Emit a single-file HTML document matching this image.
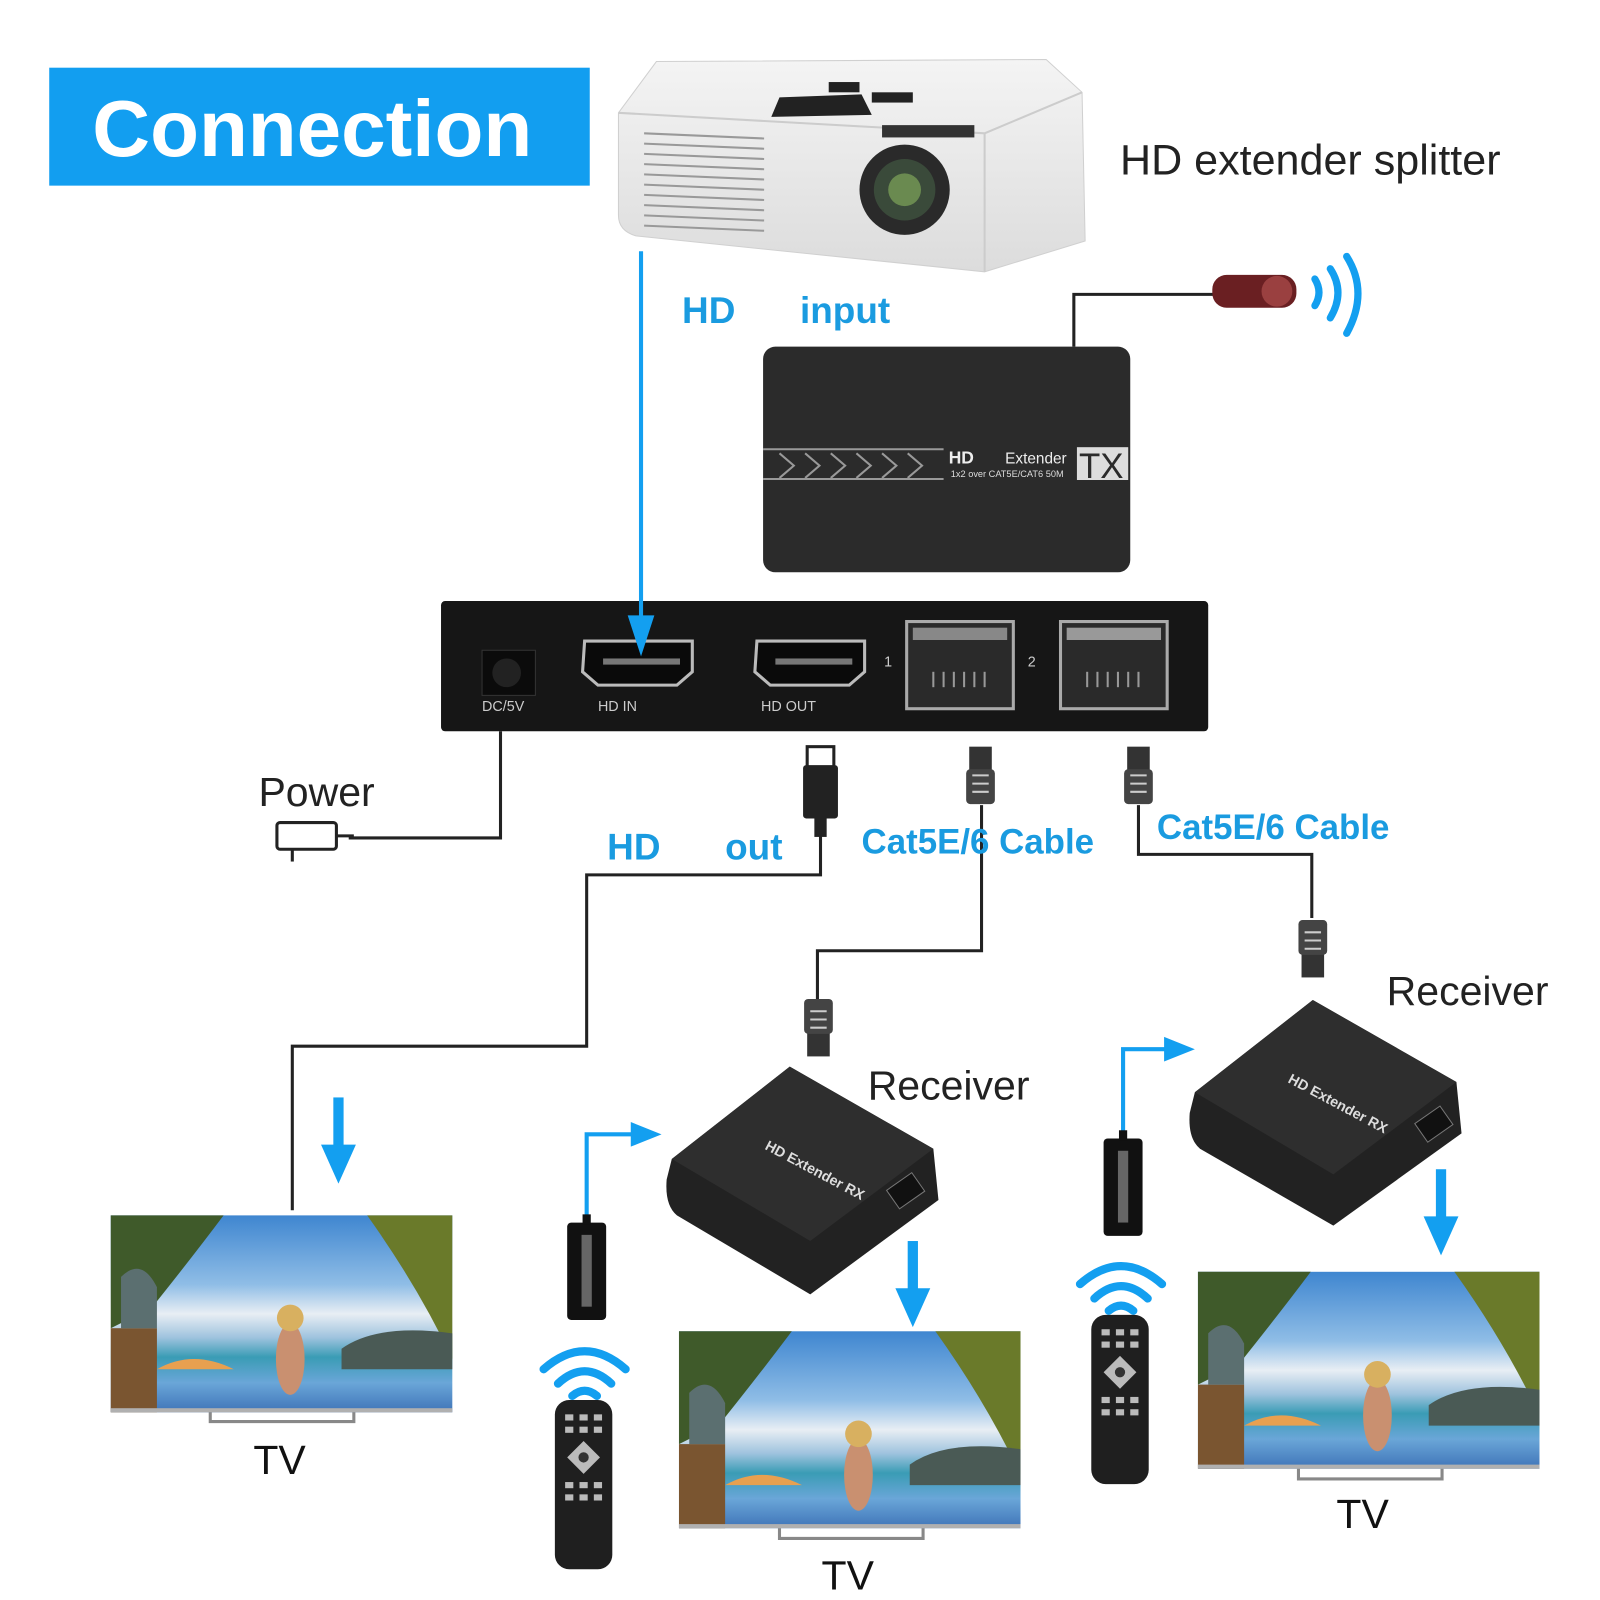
<!DOCTYPE html>
<html><head><meta charset="utf-8"><style>
html,body{margin:0;padding:0;background:#fff;width:1600px;height:1600px;overflow:hidden}
svg{display:block}
text{font-family:"Liberation Sans",sans-serif}
</style></head><body>
<svg width="1600" height="1600" viewBox="0 0 1560 1560" xmlns="http://www.w3.org/2000/svg">
<defs>
<linearGradient id="tv" x1="0" y1="0" x2="0" y2="1">
<stop offset="0" stop-color="#3f86d0"/><stop offset="0.35" stop-color="#8fbde6"/><stop offset="0.5" stop-color="#e8eef4"/><stop offset="0.62" stop-color="#9fc3de"/><stop offset="0.72" stop-color="#3a9cb5"/><stop offset="0.85" stop-color="#6aa6d8"/><stop offset="1" stop-color="#3f74b8"/>
</linearGradient>
<linearGradient id="proj" x1="0" y1="0" x2="0" y2="1"><stop offset="0" stop-color="#f4f4f4"/><stop offset="1" stop-color="#dcdcdc"/></linearGradient>
<g id="tvimg">
<rect x="0" y="0" width="333" height="192" fill="url(#tv)"/>
<path d="M0 0 L110 0 Q80 40 40 90 L0 110Z" fill="#3f5a2a"/>
<path d="M250 0 L333 0 L333 140 Q300 70 250 0Z" fill="#6a7a2a"/>
<rect x="0" y="110" width="45" height="82" fill="#7a5530"/>
<path d="M10 60 Q30 40 45 70 L45 110 L10 110Z" fill="#5b6f70"/>
<path d="M225 130 Q260 105 333 115 L333 150 L225 150Z" fill="#4a5a55"/>
<path d="M45 150 Q80 130 120 150Z" fill="#e8a050"/>
<ellipse cx="175" cy="140" rx="14" ry="35" fill="#c99070"/>
<circle cx="175" cy="100" r="13" fill="#d8b060"/>
<rect x="0" y="188" width="333" height="4" fill="#b0b0b0"/>
</g>
<g id="remote">
<rect x="0" y="0" width="56" height="165" rx="14" fill="#1f1f1f"/>
<g fill="#bbb">
<rect x="10" y="14" width="8" height="6"/><rect x="24" y="14" width="8" height="6"/><rect x="38" y="14" width="8" height="6"/>
<rect x="10" y="26" width="8" height="6"/><rect x="24" y="26" width="8" height="6"/><rect x="38" y="26" width="8" height="6"/>
<polygon points="28,40 44,56 28,72 12,56"/>
<rect x="10" y="80" width="8" height="6"/><rect x="24" y="80" width="8" height="6"/><rect x="38" y="80" width="8" height="6"/>
<rect x="10" y="92" width="8" height="6"/><rect x="24" y="92" width="8" height="6"/><rect x="38" y="92" width="8" height="6"/>
</g>
<circle cx="28" cy="56" r="5" fill="#333"/>
</g>
<g id="wifi" fill="none" stroke="#139ff0" stroke-width="8" stroke-linecap="round">
<path d="M-40 -10 Q0 -45 40 -10"/><path d="M-26 4 Q0 -20 26 4"/><path d="M-12 16 Q0 6 12 16"/>
</g>
<g id="rj">
<rect x="-11" y="0" width="22" height="24" fill="#333"/>
<rect x="-14" y="22" width="28" height="34" rx="4" fill="#444"/>
<g stroke="#ccc" stroke-width="2"><line x1="-8" y1="28" x2="8" y2="28"/><line x1="-8" y1="36" x2="8" y2="36"/><line x1="-8" y1="44" x2="8" y2="44"/></g>
</g>
<g id="arrowdn"><rect x="-5" y="0" width="10" height="50" fill="#139ff0"/><polygon points="-17,46 17,46 0,84" fill="#139ff0"/></g>
<g id="irrx"><rect x="0" y="0" width="38" height="95" rx="4" fill="#111"/><rect x="14" y="12" width="10" height="70" fill="#666"/><rect x="15" y="-8" width="8" height="10" fill="#111"/></g>
</defs>

<rect x="48" y="66" width="527" height="115" fill="#129ef0"/>
<text x="90" y="152" font-size="78" font-weight="bold" fill="#fff">Connection</text>

<path d="M603 110 L640 60 L1020 58 L1055 90 L1058 235 L960 265 L620 230 Q603 225 603 210Z" fill="url(#proj)" stroke="#d0d0d0"/>
<path d="M603 110 L960 130 L1055 90" fill="none" stroke="#ccc" stroke-width="2"/>
<path d="M960 130 L960 265" stroke="#ccc" stroke-width="2"/>
<g stroke="#999" stroke-width="2">
<line x1="628" y1="130" x2="745" y2="135"/><line x1="628" y1="140" x2="745" y2="145"/><line x1="628" y1="150" x2="745" y2="155"/><line x1="628" y1="160" x2="745" y2="165"/><line x1="628" y1="170" x2="745" y2="175"/><line x1="628" y1="180" x2="745" y2="185"/><line x1="628" y1="190" x2="745" y2="195"/><line x1="628" y1="200" x2="745" y2="205"/><line x1="628" y1="210" x2="745" y2="215"/><line x1="628" y1="220" x2="745" y2="225"/>
</g>
<path d="M760 95 L840 92 L850 112 L752 114Z" fill="#222"/>
<rect x="808" y="80" width="30" height="10" fill="#222"/><rect x="850" y="90" width="40" height="10" fill="#222"/>
<rect x="860" y="122" width="90" height="12" fill="#333"/>
<circle cx="882" cy="185" r="44" fill="#2a2a2a"/>
<circle cx="882" cy="185" r="30" fill="#3a4a3a"/>
<circle cx="882" cy="185" r="16" fill="#6a8a50"/>
<text x="1092" y="170" font-size="42" fill="#222">HD  extender splitter</text>

<text x="665" y="315" font-size="36" font-weight="bold" fill="#1a9be0">HD</text>
<text x="780" y="315" font-size="36" font-weight="bold" fill="#1a9be0">input</text>

<polyline points="1047,338 1047,287 1185,287" fill="none" stroke="#222" stroke-width="3"/>
<rect x="1182" y="268" width="82" height="32" rx="14" fill="#6a1f22"/>
<circle cx="1245" cy="284" r="15" fill="#9a4040"/>
<g fill="none" stroke="#139ff0" stroke-width="7" stroke-linecap="round">
<path d="M1282 272 Q1290 285 1282 298"/><path d="M1297 262 Q1312 285 1297 310"/><path d="M1313 250 Q1335 285 1313 325"/>
</g>

<rect x="744" y="338" width="358" height="220" rx="12" fill="#2b2b2b"/>
<g stroke="#999" stroke-width="2" fill="none">
<path d="M744 438 L920 438"/><path d="M744 467 L920 467"/>
<path d="M760 442 l14 12 l-14 12 M785 442 l14 12 l-14 12 M810 442 l14 12 l-14 12 M835 442 l14 12 l-14 12 M860 442 l14 12 l-14 12 M885 442 l14 12 l-14 12"/>
</g>
<text x="925" y="452" font-size="17" font-weight="bold" fill="#eee">HD</text>
<text x="980" y="452" font-size="15" fill="#eee">Extender</text>
<text x="927" y="465" font-size="9" fill="#ddd">1x2 over CAT5E/CAT6 50M</text>
<rect x="1050" y="436" width="50" height="32" fill="#ddd"/>
<text x="1052" y="466" font-size="34" fill="#2b2b2b">TX</text>

<rect x="430" y="586" width="748" height="127" rx="4" fill="#161616"/>
<rect x="470" y="634" width="52" height="44" fill="#0b0b0b" stroke="#333"/>
<circle cx="494" cy="656" r="14" fill="#222"/>
<text x="470" y="693" font-size="14" fill="#ccc">DC/5V</text>
<path d="M570 625 L675 625 L675 655 L660 668 L583 668 L568 655Z" fill="#0a0a0a" stroke="#bbb" stroke-width="3"/>
<rect x="588" y="642" width="75" height="6" fill="#777"/>
<text x="583" y="693" font-size="14" fill="#ccc">HD    IN</text>
<path d="M738 625 L843 625 L843 655 L828 668 L751 668 L736 655Z" fill="#0a0a0a" stroke="#bbb" stroke-width="3"/>
<rect x="756" y="642" width="75" height="6" fill="#777"/>
<text x="742" y="693" font-size="14" fill="#ccc">HD     OUT</text>
<text x="862" y="650" font-size="14" fill="#ccc">1</text>
<rect x="884" y="606" width="104" height="85" fill="#2a2a2a" stroke="#aaa" stroke-width="3"/>
<rect x="890" y="612" width="92" height="12" fill="#888"/>
<g stroke="#999" stroke-width="2"><line x1="910" y1="655" x2="910" y2="670"/><line x1="920" y1="655" x2="920" y2="670"/><line x1="930" y1="655" x2="930" y2="670"/><line x1="940" y1="655" x2="940" y2="670"/><line x1="950" y1="655" x2="950" y2="670"/><line x1="960" y1="655" x2="960" y2="670"/></g>
<text x="1002" y="650" font-size="14" fill="#ccc">2</text>
<rect x="1034" y="606" width="104" height="85" fill="#2a2a2a" stroke="#aaa" stroke-width="3"/>
<rect x="1040" y="612" width="92" height="12" fill="#999"/>
<g stroke="#999" stroke-width="2"><line x1="1060" y1="655" x2="1060" y2="670"/><line x1="1070" y1="655" x2="1070" y2="670"/><line x1="1080" y1="655" x2="1080" y2="670"/><line x1="1090" y1="655" x2="1090" y2="670"/><line x1="1100" y1="655" x2="1100" y2="670"/><line x1="1110" y1="655" x2="1110" y2="670"/></g>

<!-- HD input line on top -->
<line x1="625" y1="245" x2="625" y2="610" stroke="#139ff0" stroke-width="4"/>
<polygon points="612,600 638,600 625,640" fill="#139ff0"/>

<polyline points="488,713 488,817 340,817" fill="none" stroke="#222" stroke-width="3"/>
<rect x="270" y="802" width="58" height="26" rx="3" fill="#fff" stroke="#222" stroke-width="3"/>
<line x1="285" y1="828" x2="285" y2="840" stroke="#222" stroke-width="3"/>
<line x1="328" y1="815" x2="345" y2="815" stroke="#222" stroke-width="3"/>
<text x="252" y="786" font-size="40" fill="#222">Power</text>

<rect x="787" y="728" width="26" height="20" fill="#fff" stroke="#222" stroke-width="3"/>
<rect x="783" y="746" width="34" height="52" rx="3" fill="#222"/>
<rect x="794" y="798" width="12" height="18" fill="#222"/>
<polyline points="800,815 800,853 572,853 572,1020 285,1020 285,1180" fill="none" stroke="#222" stroke-width="3"/>
<text x="592" y="838" font-size="36" font-weight="bold" fill="#1a9be0">HD</text>
<text x="707" y="838" font-size="36" font-weight="bold" fill="#1a9be0">out</text>

<use href="#rj" x="956" y="728"/>
<polyline points="957,785 957,927 797,927 797,975" fill="none" stroke="#222" stroke-width="3"/>
<g transform="translate(798,1030) scale(1,-1)"><use href="#rj"/></g>
<text x="840" y="832" font-size="34" font-weight="bold" fill="#1a9be0">Cat5E/6 Cable</text>
<use href="#rj" x="1110" y="728"/>
<polyline points="1110,785 1110,833 1279,833 1279,895" fill="none" stroke="#222" stroke-width="3"/>
<g transform="translate(1280,953) scale(1,-1)"><use href="#rj"/></g>
<text x="1128" y="818" font-size="34" font-weight="bold" fill="#1a9be0">Cat5E/6 Cable</text>

<text x="846" y="1072" font-size="40" fill="#222">Receiver</text>
<text x="1352" y="980" font-size="40" fill="#222">Receiver</text>
<path d="M655 1130 L770 1040 L910 1120 L915 1170 L790 1262 L660 1185 Q648 1175 650 1150Z" fill="#222"/>
<path d="M655 1130 L770 1040 L910 1120 L790 1210Z" fill="#2e2e2e"/>
<text x="745" y="1120" font-size="14" font-weight="bold" fill="#ddd" transform="rotate(28 745 1120)">HD   Extender RX</text>
<rect x="868" y="1150" width="30" height="22" fill="#111" stroke="#777" transform="rotate(-35 883 1161)"/>
<path d="M1165 1065 L1280 975 L1420 1055 L1425 1105 L1300 1195 L1170 1120 Q1158 1110 1160 1085Z" fill="#222"/>
<path d="M1165 1065 L1280 975 L1420 1055 L1300 1145Z" fill="#2e2e2e"/>
<text x="1255" y="1055" font-size="14" font-weight="bold" fill="#ddd" transform="rotate(28 1255 1055)">HD   Extender RX</text>
<rect x="1383" y="1085" width="30" height="22" fill="#111" stroke="#777" transform="rotate(-35 1398 1096)"/>

<use href="#arrowdn" x="330" y="1070"/>
<use href="#arrowdn" x="890" y="1210"/>
<use href="#arrowdn" x="1405" y="1140"/>
<polyline points="572,1192 572,1106 620,1106" fill="none" stroke="#139ff0" stroke-width="4"/>
<polygon points="615,1094 645,1106 615,1118" fill="#139ff0"/>
<polyline points="1095,1112 1095,1023 1140,1023" fill="none" stroke="#139ff0" stroke-width="4"/>
<polygon points="1135,1011 1165,1023 1135,1035" fill="#139ff0"/>

<use href="#irrx" x="553" y="1192"/>
<use href="#irrx" x="1076" y="1110"/>
<use href="#wifi" x="570" y="1345"/>
<use href="#wifi" x="1093" y="1262"/>
<use href="#remote" x="541" y="1365"/>
<use href="#remote" x="1064" y="1282"/>

<g transform="translate(108,1185)"><use href="#tvimg"/></g>
<path d="M205 1377 L205 1386 L345 1386 L345 1377" fill="none" stroke="#888" stroke-width="3"/>
<text x="247" y="1437" font-size="40" fill="#111">TV</text>
<g transform="translate(662,1298)"><use href="#tvimg"/></g>
<path d="M760 1490 L760 1500 L900 1500 L900 1490" fill="none" stroke="#888" stroke-width="3"/>
<text x="801" y="1550" font-size="40" fill="#111">TV</text>
<g transform="translate(1168,1240)"><use href="#tvimg"/></g>
<path d="M1266 1432 L1266 1442 L1406 1442 L1406 1432" fill="none" stroke="#888" stroke-width="3"/>
<text x="1303" y="1490" font-size="40" fill="#111">TV</text>
</svg>
</body></html>
